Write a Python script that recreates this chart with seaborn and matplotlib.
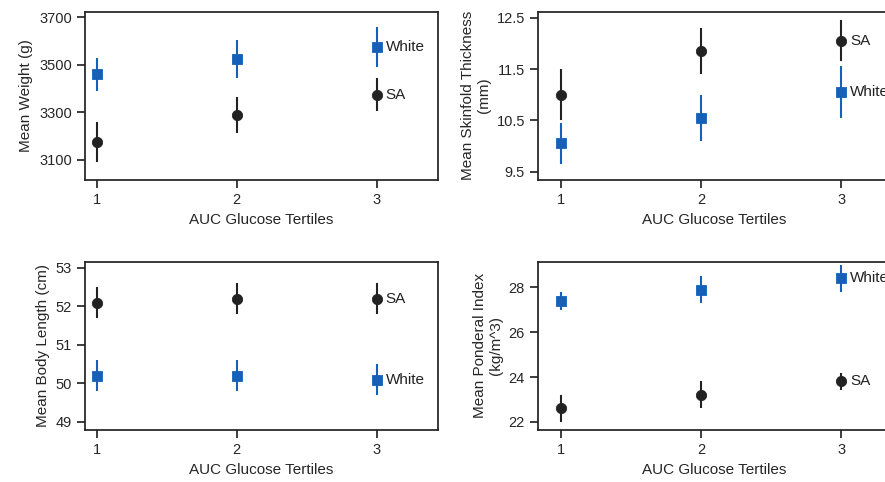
import matplotlib
matplotlib.use("Agg")
import matplotlib.pyplot as plt
import seaborn as sns
import pandas as pd

sns.set_theme(style="ticks")
plt.rcParams['font.family'] = ['Liberation Sans', 'DejaVu Sans']

tertiles = [1, 2, 3]
weight_sa = [3175, 3290, 3375]; weight_sa_err = [85, 75, 70]
weight_wh = [3460, 3525, 3575]; weight_wh_err = [70, 80, 85]
skin_sa = [11.0, 11.85, 12.05]; skin_sa_err = [0.5, 0.45, 0.4]
skin_wh = [10.05, 10.55, 11.05]; skin_wh_err = [0.4, 0.45, 0.5]
len_sa = [52.1, 52.2, 52.2]; len_sa_err = [0.4, 0.4, 0.4]
len_wh = [50.2, 50.2, 50.1]; len_wh_err = [0.4, 0.4, 0.4]
pi_sa = [22.6, 23.2, 23.8]; pi_sa_err = [0.6, 0.6, 0.4]
pi_wh = [27.4, 27.9, 28.4]; pi_wh_err = [0.4, 0.6, 0.6]

BLACK = "#222222"; BLUE = "#1560b8"

panels = [
    dict(pos=[0.096, 0.627, 0.399, 0.349], xlim=(0.914, 3.44), ylim=(3016, 3725),
         yticks=[3100, 3300, 3500, 3700], ylabel="Mean Weight (g)",
         sa=(weight_sa, weight_sa_err), wh=(weight_wh, weight_wh_err)),
    dict(pos=[0.608, 0.627, 0.398, 0.349], xlim=(0.836, 3.35), ylim=(9.34, 12.62),
         yticks=[9.5, 10.5, 11.5, 12.5], ylabel="Mean Skinfold Thickness\n(mm)",
         sa=(skin_sa, skin_sa_err), wh=(skin_wh, skin_wh_err)),
    dict(pos=[0.096, 0.108, 0.399, 0.349], xlim=(0.914, 3.44), ylim=(48.79, 53.16),
         yticks=[49, 50, 51, 52, 53], ylabel="Mean Body Length (cm)",
         sa=(len_sa, len_sa_err), wh=(len_wh, len_wh_err)),
    dict(pos=[0.608, 0.108, 0.398, 0.349], xlim=(0.836, 3.35), ylim=(21.64, 29.14),
         yticks=[22, 24, 26, 28], ylabel="Mean Ponderal Index\n(kg/m^3)",
         sa=(pi_sa, pi_sa_err), wh=(pi_wh, pi_wh_err)),
]

fig = plt.figure(figsize=(8.85, 4.82), dpi=100)
for p in panels:
    ax = fig.add_axes(p["pos"])
    for key, color, marker, name in [("sa", BLACK, "o", "SA"), ("wh", BLUE, "s", "White")]:
        vals, errs = p[key]
        ax.errorbar(tertiles, vals, yerr=errs, fmt="none", ecolor=color, elinewidth=1.5, capsize=0)
        df = pd.DataFrame({"x": tertiles, "y": vals})
        sns.scatterplot(data=df, x="x", y="y", ax=ax, color=color, marker=marker,
                        s=55, edgecolor=color, zorder=3)
        ax.text(3.065, vals[2], name, va="center", ha="left", fontsize=11, color=BLACK)
    ax.set_xlim(*p["xlim"]); ax.set_ylim(*p["ylim"])
    ax.set_xticks(tertiles); ax.set_yticks(p["yticks"])
    ax.set_xlabel("AUC Glucose Tertiles", fontsize=11)
    ax.set_ylabel(p["ylabel"], fontsize=11)
    ax.tick_params(labelsize=10.5)
    for s in ax.spines.values():
        s.set_color(BLACK)

fig.savefig("out.png", dpi=100)
